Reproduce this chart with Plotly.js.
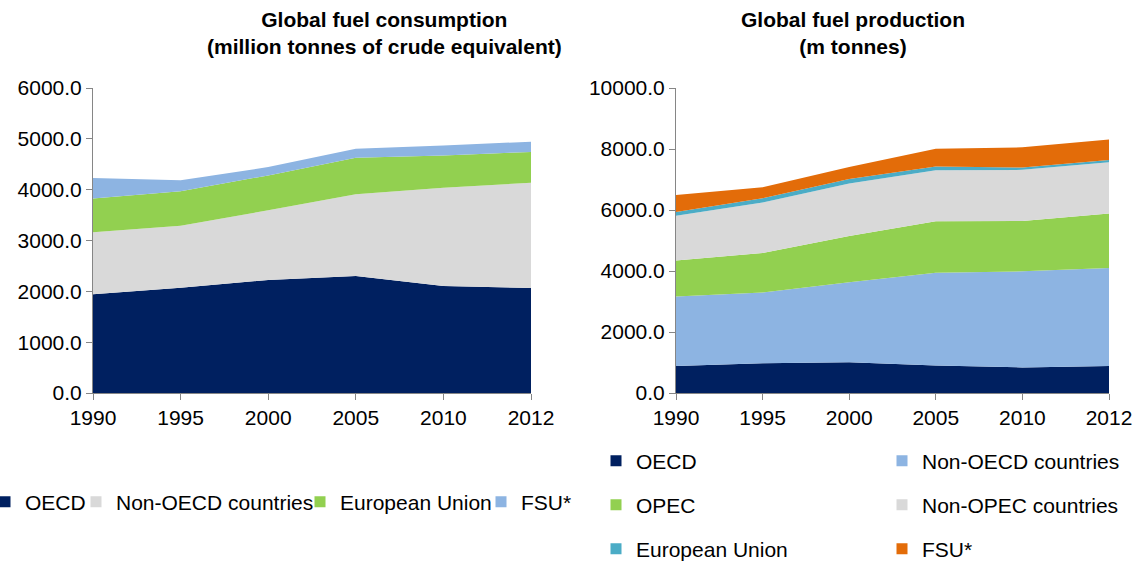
<!DOCTYPE html>
<html><head><meta charset="utf-8">
<script src="https://cdn.plot.ly/plotly-3.0.1.min.js"></script>
<style>html,body{margin:0;padding:0;background:#fff}#chart{width:1135px;height:561px}</style>
</head><body><div id="chart"></div>
<script>
// Years (x categories)
const years = ['1990', '1995', '2000', '2005', '2010', '2012'];

// Global fuel consumption (million tonnes of crude equivalent)
const consOECD    = [1941, 2072, 2222, 2301, 2105, 2065];
const consNonOECD = [1222, 1216, 1373, 1608, 1934, 2070];
const consEU      = [661, 679, 686, 719, 634, 608];
const consFSU     = [405, 216, 164, 176, 196, 202];

// Global fuel production (m tonnes)
const prodOECD    = [883, 972, 1006, 905, 838, 883];
const prodNonOECD = [2279, 2324, 2625, 3039, 3151, 3217];
const prodOPEC    = [1183, 1295, 1519, 1686, 1652, 1787];
const prodNonOPEC = [1463, 1653, 1720, 1675, 1675, 1675];
const prodEU      = [123, 145, 145, 123, 78, 78];
const prodFSU     = [559, 358, 391, 581, 660, 670];

const W = 1135, H = 561;
const C = {
  navy: '#002060', gray: '#D9D9D9', green: '#92D050', blue: '#8DB4E2',
  teal: '#4BACC6', orange: '#E36C09', axis: '#868686'
};

const consSeries = [
  {name: 'OECD', y: consOECD, c: C.navy},
  {name: 'Non-OECD countries', y: consNonOECD, c: C.gray},
  {name: 'European Union', y: consEU, c: C.green},
  {name: 'FSU*', y: consFSU, c: C.blue}
];
const prodSeries = [
  {name: 'OECD', y: prodOECD, c: C.navy},
  {name: 'Non-OECD countries', y: prodNonOECD, c: C.blue},
  {name: 'OPEC', y: prodOPEC, c: C.green},
  {name: 'Non-OPEC countries', y: prodNonOPEC, c: C.gray},
  {name: 'European Union', y: prodEU, c: C.teal},
  {name: 'FSU*', y: prodFSU, c: C.orange}
];

const traces = [];
consSeries.forEach(s => traces.push({
  type: 'scatter', x: years, y: s.y, stackgroup: 'cons', mode: 'none',
  fillcolor: s.c, line: {width: 0}, xaxis: 'x', yaxis: 'y',
  showlegend: false, hoverinfo: 'skip', name: s.name
}));
prodSeries.forEach(s => traces.push({
  type: 'scatter', x: years, y: s.y, stackgroup: 'prod', mode: 'none',
  fillcolor: s.c, line: {width: 0}, xaxis: 'x2', yaxis: 'y2',
  showlegend: false, hoverinfo: 'skip', name: s.name
}));

// legend item anchor (px x of legend box left, px y of row centre, indentation)
const leftLegendPos = [[0, 502, -15], [76, 502, 0], [300, 502, 0], [481, 502, 0]];
const rightLegendPos = [[596, 461, 0], [882, 461, 0], [596, 505, 0], [882, 505, 0], [596, 549, 0], [882, 549, 0]];

const layout = {
  width: W, height: H,
  margin: {l: 0, r: 0, t: 0, b: 0, pad: 0, autoexpand: false},
  paper_bgcolor: '#ffffff', plot_bgcolor: '#ffffff',
  font: {family: 'Liberation Sans, Arial, sans-serif', size: 21, color: '#000000'},
  hovermode: false,
  annotations: [
    {text: '<b>Global fuel consumption<br>(million tonnes of crude equivalent)</b>',
     xref: 'paper', yref: 'paper', x: 384 / W, y: 1 - 33.5 / H,
     xanchor: 'center', yanchor: 'middle', showarrow: false,
     font: {size: 21, color: '#000'}},
    {text: '<b>Global fuel production<br>(m tonnes)</b>',
     xref: 'paper', yref: 'paper', x: 853 / W, y: 1 - 33.5 / H,
     xanchor: 'center', yanchor: 'middle', showarrow: false,
     font: {size: 21, color: '#000'}}
  ]
};

const axBase = {
  showline: true, linecolor: C.axis, linewidth: 1, ticks: 'outside', ticklen: 6,
  tickcolor: C.axis, tickwidth: 1, showgrid: false, zeroline: false, fixedrange: true,
  tickfont: {size: 21, color: '#000'}
};
const yDom = [1 - 393 / H, 1 - 88 / H];
layout.xaxis = Object.assign({}, axBase, {domain: [93 / W, 531 / W], anchor: 'y', type: 'category', range: [0, 5]});
layout.yaxis = Object.assign({}, axBase, {domain: yDom, anchor: 'x', range: [0, 6000], dtick: 1000, tickformat: '.1f'});
layout.xaxis2 = Object.assign({}, axBase, {domain: [676 / W, 1109 / W], anchor: 'y2', type: 'category', range: [0, 5]});
layout.yaxis2 = Object.assign({}, axBase, {domain: yDom, anchor: 'x2', range: [0, 10000], dtick: 2000, tickformat: '.1f'});

let li = 0;
function addLegend(s, pos, xa, ya) {
  li += 1;
  const key = li === 1 ? 'legend' : 'legend' + li;
  traces.push({
    type: 'scatter', mode: 'markers', x: [null], y: [null], xaxis: xa, yaxis: ya,
    marker: {symbol: 'square', size: 11, color: s.c}, name: s.name,
    legend: key, showlegend: true, hoverinfo: 'skip'
  });
  layout[key] = {
    xref: 'container', yref: 'container', x: pos[0] / W, y: 1 - pos[1] / H,
    xanchor: 'left', yanchor: 'middle', orientation: 'h', bgcolor: 'rgba(0,0,0,0)',
    borderwidth: 0, itemsizing: 'trace', itemclick: false, itemdoubleclick: false,
    indentation: pos[2],
    font: {size: 21, color: '#000'}
  };
}
consSeries.forEach((s, i) => addLegend(s, leftLegendPos[i], 'x', 'y'));
prodSeries.forEach((s, i) => addLegend(s, rightLegendPos[i], 'x2', 'y2'));

Plotly.newPlot('chart', traces, layout, {displayModeBar: false, staticPlot: true});
</script>
</body></html>
